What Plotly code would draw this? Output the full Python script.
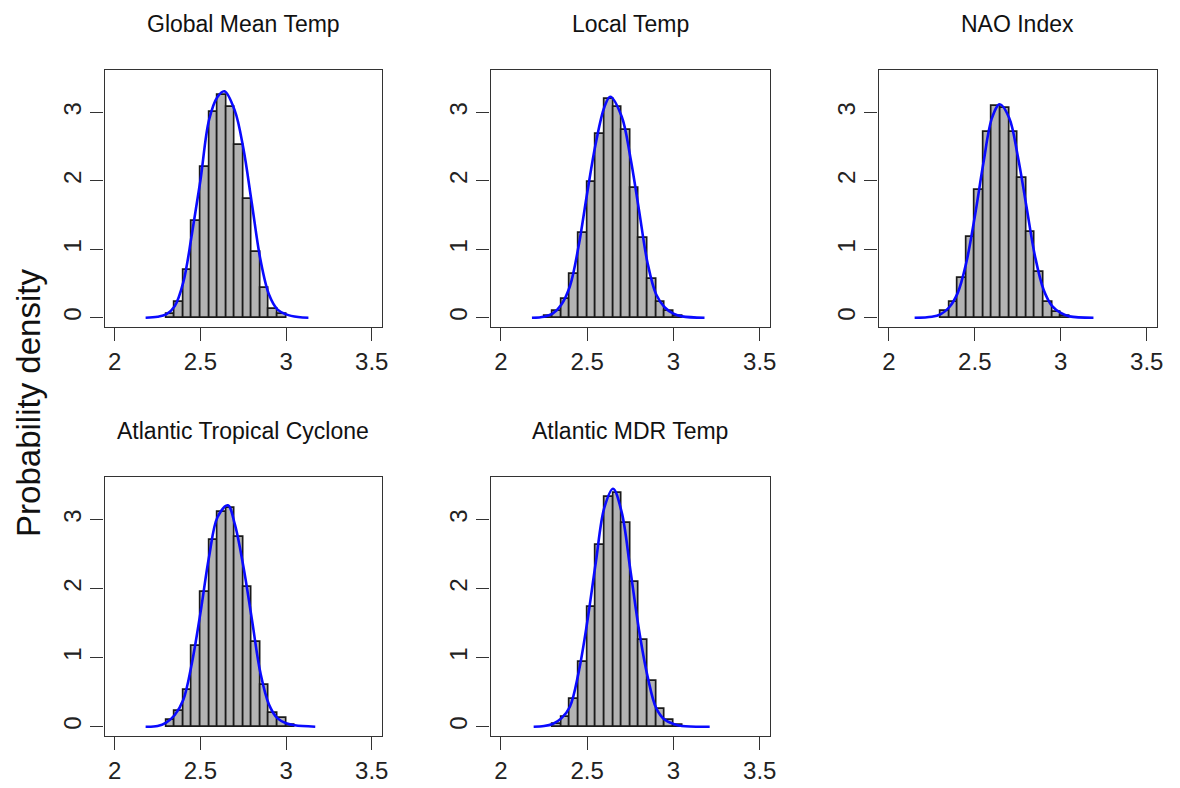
import plotly.graph_objects as go

titles = ["Global Mean Temp", "Local Temp", "NAO Index",
          "Atlantic Tropical Cyclone", "Atlantic MDR Temp"]

bin_width = 0.05

# histogram bins (left edges) and densities, per panel
gmt_edges = [2.30, 2.35, 2.40, 2.45, 2.50, 2.55, 2.60, 2.65, 2.70, 2.75, 2.80, 2.85, 2.90, 2.95]
gmt_dens = [0.05, 0.23, 0.70, 1.41, 2.21, 3.01, 3.25, 3.08, 2.52, 1.73, 0.96, 0.43, 0.13, 0.05]

loc_edges = [2.25, 2.30, 2.35, 2.40, 2.45, 2.50, 2.55, 2.60, 2.65, 2.70, 2.75, 2.80, 2.85, 2.90, 2.95, 3.00]
loc_dens = [0.03, 0.10, 0.27, 0.64, 1.24, 1.98, 2.68, 3.19, 3.08, 2.74, 1.90, 1.16, 0.57, 0.23, 0.10, 0.03]

nao_edges = [2.30, 2.35, 2.40, 2.45, 2.50, 2.55, 2.60, 2.65, 2.70, 2.75, 2.80, 2.85, 2.90, 2.95, 3.00]
nao_dens = [0.10, 0.23, 0.58, 1.18, 1.87, 2.71, 3.09, 3.07, 2.72, 2.04, 1.25, 0.67, 0.23, 0.09, 0.03]

atc_edges = [2.30, 2.35, 2.40, 2.45, 2.50, 2.55, 2.60, 2.65, 2.70, 2.75, 2.80, 2.85, 2.90, 2.95, 3.00]
atc_dens = [0.09, 0.23, 0.53, 1.17, 1.95, 2.70, 3.11, 3.17, 2.75, 2.03, 1.23, 0.60, 0.20, 0.12, 0.02]

mdr_edges = [2.30, 2.35, 2.40, 2.45, 2.50, 2.55, 2.60, 2.65, 2.70, 2.75, 2.80, 2.85, 2.90, 2.95, 3.00]
mdr_dens = [0.04, 0.14, 0.40, 0.94, 1.74, 2.63, 3.33, 3.39, 2.96, 2.10, 1.25, 0.66, 0.25, 0.10, 0.02]

# density curves
gmt_cx = [2.18, 2.25, 2.30, 2.35, 2.40, 2.45, 2.50, 2.55, 2.60, 2.64, 2.70, 2.75, 2.80, 2.85, 2.90, 2.95, 3.00, 3.07, 3.13]
gmt_cy = [0.00, 0.015, 0.05, 0.17, 0.52, 1.22, 2.01, 2.89, 3.23, 3.31, 3.03, 2.48, 1.67, 0.85, 0.34, 0.12, 0.05, 0.01, 0.00]

loc_cx = [2.18, 2.25, 2.30, 2.35, 2.40, 2.45, 2.50, 2.55, 2.60, 2.634, 2.70, 2.75, 2.80, 2.85, 2.90, 2.95, 3.00, 3.05, 3.18]
loc_cy = [0.00, 0.015, 0.06, 0.19, 0.46, 1.04, 1.82, 2.55, 3.08, 3.23, 2.94, 2.35, 1.58, 0.80, 0.34, 0.15, 0.06, 0.02, 0.00]

nao_cx = [2.15, 2.25, 2.30, 2.35, 2.40, 2.45, 2.50, 2.55, 2.60, 2.645, 2.70, 2.75, 2.80, 2.85, 2.90, 2.95, 3.00, 3.05, 3.19]
nao_cy = [0.00, 0.015, 0.05, 0.15, 0.36, 0.80, 1.48, 2.26, 2.92, 3.12, 2.92, 2.36, 1.63, 0.90, 0.41, 0.17, 0.07, 0.02, 0.00]

atc_cx = [2.18, 2.25, 2.30, 2.35, 2.40, 2.45, 2.50, 2.55, 2.60, 2.66, 2.70, 2.75, 2.80, 2.85, 2.90, 2.95, 3.00, 3.05, 3.17]
atc_cy = [0.00, 0.01, 0.06, 0.17, 0.39, 0.92, 1.65, 2.46, 3.04, 3.21, 2.94, 2.33, 1.56, 0.78, 0.32, 0.12, 0.05, 0.02, 0.00]

mdr_cx = [2.19, 2.25, 2.30, 2.35, 2.40, 2.45, 2.50, 2.55, 2.60, 2.65, 2.70, 2.75, 2.80, 2.85, 2.90, 2.95, 3.00, 3.05, 3.21]
mdr_cy = [0.00, 0.01, 0.04, 0.12, 0.29, 0.78, 1.51, 2.38, 3.18, 3.45, 3.11, 2.28, 1.41, 0.73, 0.27, 0.10, 0.04, 0.01, 0.00]

x_ticks = [2, 2.5, 3, 3.5]
x_tick_text = ["2", "2.5", "3", "3.5"]
y_ticks = [0, 1, 2, 3]
y_tick_text = ["0", "1", "2", "3"]

panels = [
    (gmt_edges, gmt_dens, gmt_cx, gmt_cy),
    (loc_edges, loc_dens, loc_cx, loc_cy),
    (nao_edges, nao_dens, nao_cx, nao_cy),
    (atc_edges, atc_dens, atc_cx, atc_cy),
    (mdr_edges, mdr_dens, mdr_cx, mdr_cy),
]

# page body has an 8px margin; work in window pixels and subtract it
OFF = 8
W, H = 1180 - OFF, 788 - OFF
# panel boxes in window pixels: (left, right, top, bottom)
boxes = [
    (105, 384, 70, 327),
    (493, 774, 70, 327),
    (883, 1163, 70, 327),
    (105, 384, 477, 736),
    (493, 774, 477, 736),
]


def px(v):
    return (v - OFF) / W


def py(v):
    return 1 - (v - OFF) / H


FONT = "Liberation Sans, Arial, Helvetica, sans-serif"

fig = go.Figure()
layout = dict(
    width=W, height=H,
    margin=dict(l=0, r=0, t=0, b=0),
    paper_bgcolor="white", plot_bgcolor="white",
    showlegend=False,
    font=dict(family=FONT, color="black"),
    bargap=0,
)
annotations = []

for i, ((edges, dens, cx, cy), (l, r, t, b)) in enumerate(zip(panels, boxes)):
    n = i + 1
    xa = "x" if n == 1 else f"x{n}"
    ya = "y" if n == 1 else f"y{n}"
    centers = [e + bin_width / 2 for e in edges]
    fig.add_trace(go.Bar(
        x=centers, y=dens, width=bin_width,
        marker=dict(color="#b3b3b3", line=dict(color="#1a1a1a", width=1.7)),
        xaxis=xa, yaxis=ya, hoverinfo="x+y",
    ))
    fig.add_trace(go.Scatter(
        x=cx, y=cy, mode="lines",
        line=dict(color="#0a0aff", width=2.6, shape="spline", smoothing=1.0),
        xaxis=xa, yaxis=ya,
    ))
    xkey = "xaxis" if n == 1 else f"xaxis{n}"
    ykey = "yaxis" if n == 1 else f"yaxis{n}"
    layout[xkey] = dict(
        domain=[px(l), px(r)], anchor=ya, range=[1.94, 3.56],
        tickmode="array", tickvals=x_ticks, ticktext=x_tick_text,
        ticks="outside", ticklen=13, tickwidth=1.4, tickcolor="#333",
        showline=True, linecolor="#333", linewidth=1.4, mirror=True,
        showgrid=False, zeroline=False,
        tickfont=dict(size=24, family=FONT, color="#222"),
    )
    layout[ykey] = dict(
        domain=[py(b), py(t)], anchor=xa, range=[-0.135, 3.62],
        tickmode="array", tickvals=y_ticks, ticktext=y_tick_text,
        ticks="outside", ticklen=13, tickwidth=1.4, tickcolor="#333",
        showline=True, linecolor="#333", linewidth=1.4, mirror=True,
        showgrid=False, zeroline=False, tickangle=-90,
        tickfont=dict(size=24, family=FONT, color="#222"),
    )
    annotations.append(dict(
        text=titles[i], x=px((l + r) / 2), y=py(t - 46),
        xref="paper", yref="paper", xanchor="center", yanchor="middle",
        showarrow=False, font=dict(size=23, family=FONT, color="#111"),
    ))

annotations.append(dict(
    text="Probability density", x=px(28), y=py(403),
    xref="paper", yref="paper", xanchor="center", yanchor="middle",
    textangle=-90, showarrow=False, font=dict(size=33, family=FONT, color="#111"),
))
layout["annotations"] = annotations
fig.update_layout(**layout)
fig.write_html("out.html")
